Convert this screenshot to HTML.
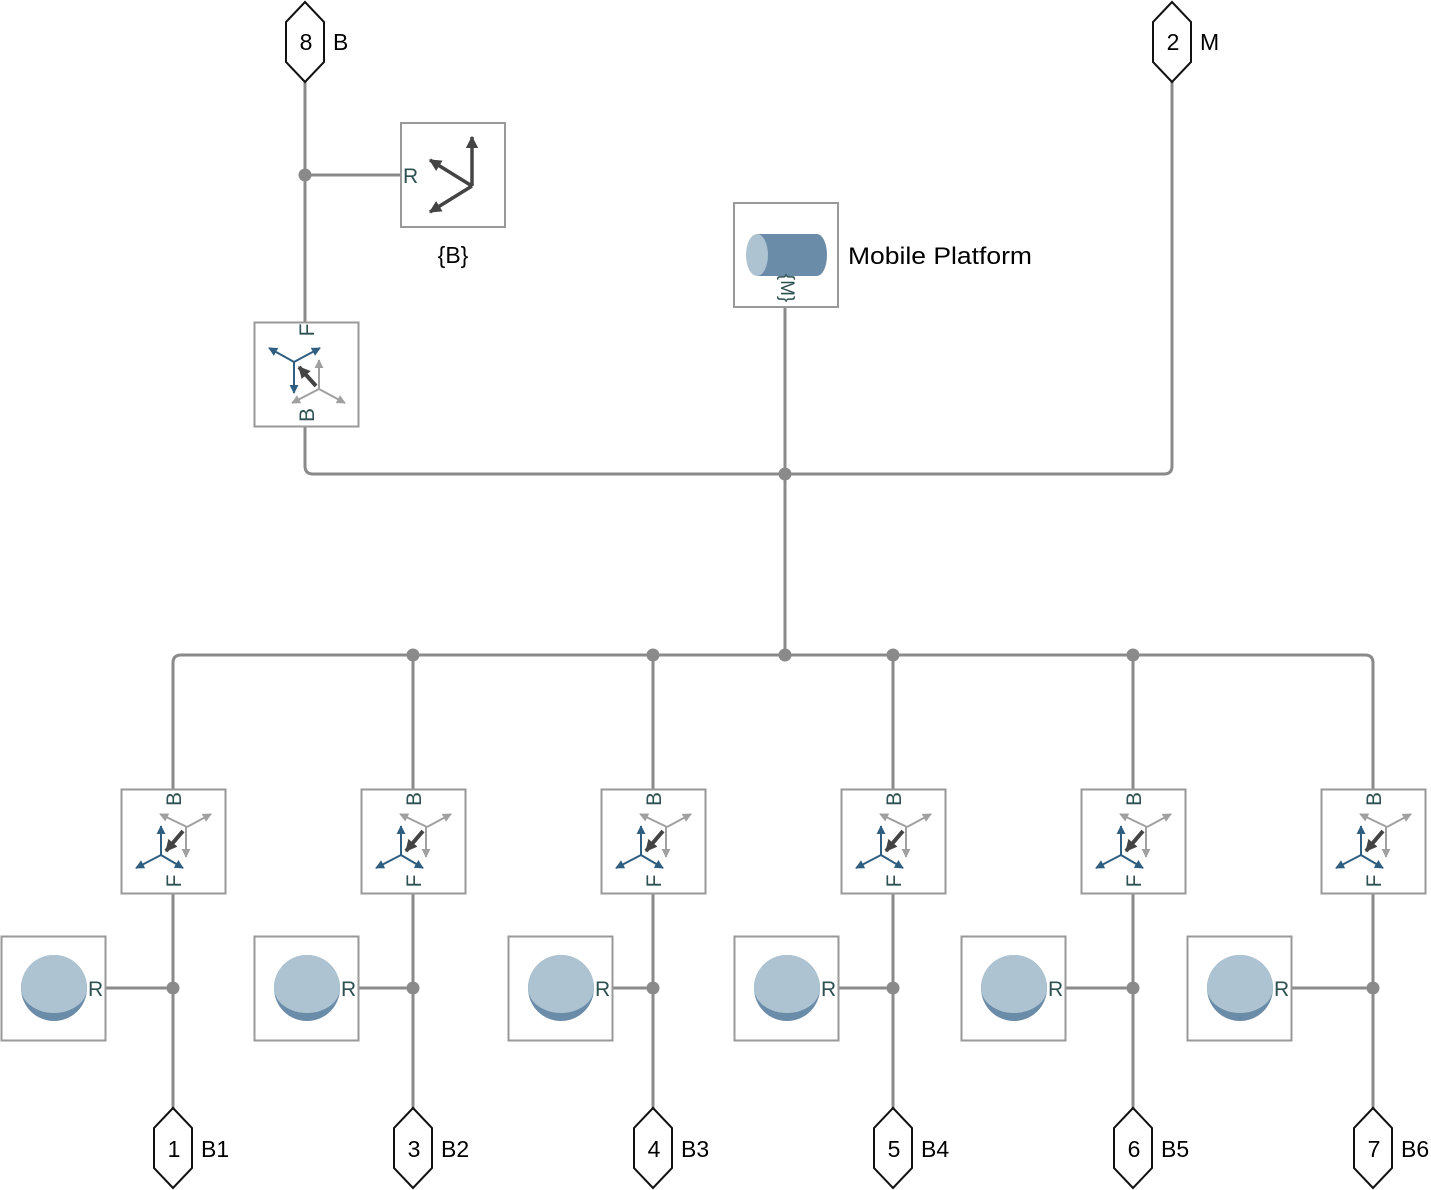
<!DOCTYPE html>
<html><head><meta charset="utf-8"><style>
html,body{margin:0;padding:0;background:#fff;}
svg{display:block;}
text{font-family:"Liberation Sans",sans-serif;}
</style></head><body>
<svg width="1431" height="1190" viewBox="0 0 1431 1190" xmlns="http://www.w3.org/2000/svg">
<defs>
<marker id="mb" viewBox="0 0 10 10" refX="9" refY="5" markerWidth="4.5" markerHeight="4.5" orient="auto"><path d="M0,0L10,5L0,10z" fill="#2f5e80"/></marker>
<marker id="mg" viewBox="0 0 10 10" refX="9" refY="5" markerWidth="4.5" markerHeight="4.5" orient="auto"><path d="M0,0L10,5L0,10z" fill="#a0a0a0"/></marker>
<marker id="md" viewBox="0 0 10 10" refX="9" refY="5" markerWidth="3" markerHeight="3" orient="auto"><path d="M0,0L10,5L0,10z" fill="#444"/></marker>
<marker id="mf" viewBox="0 0 10 10" refX="9" refY="5" markerWidth="3.5" markerHeight="3.5" orient="auto"><path d="M0,0L10,5L0,10z" fill="#444"/></marker>
<g id="tb">
 <rect x="0.5" y="0.5" width="104" height="104" fill="#fff" stroke="#999" stroke-width="2"/>
 <g stroke="#a0a0a0" stroke-width="2" fill="none">
  <line x1="66" y1="38" x2="39" y2="25" marker-end="url(#mg)"/>
  <line x1="66" y1="38" x2="90" y2="25" marker-end="url(#mg)"/>
  <line x1="65" y1="38" x2="65" y2="68" marker-end="url(#mg)"/>
 </g>
 <g stroke="#2f5e80" stroke-width="2" fill="none">
  <line x1="40" y1="66" x2="40" y2="37" marker-end="url(#mb)"/>
  <line x1="40" y1="66" x2="15" y2="79" marker-end="url(#mb)"/>
  <line x1="40" y1="66" x2="62" y2="79" marker-end="url(#mb)"/>
 </g>
 <line x1="62" y1="42" x2="45" y2="62" stroke="#444" stroke-width="4" marker-end="url(#md)"/>
</g>
<g id="tt">
 <rect x="0.5" y="0.5" width="104" height="104" fill="#fff" stroke="#999" stroke-width="2"/>
 <g stroke="#a0a0a0" stroke-width="2" fill="none">
  <line x1="65" y1="67" x2="65" y2="38" marker-end="url(#mg)"/>
  <line x1="65" y1="67" x2="38" y2="81" marker-end="url(#mg)"/>
  <line x1="65" y1="67" x2="91" y2="81" marker-end="url(#mg)"/>
 </g>
 <g stroke="#2f5e80" stroke-width="2" fill="none">
  <line x1="40" y1="40" x2="15" y2="26" marker-end="url(#mb)"/>
  <line x1="40" y1="40" x2="66" y2="26" marker-end="url(#mb)"/>
  <line x1="40" y1="40" x2="40" y2="71" marker-end="url(#mb)"/>
 </g>
 <line x1="62" y1="64" x2="45" y2="45" stroke="#444" stroke-width="4" marker-end="url(#md)"/>
</g>
<g id="sb">
 <rect x="0.5" y="0.5" width="104" height="104" fill="#fff" stroke="#999" stroke-width="2"/>
 <circle cx="53" cy="52" r="33" fill="#6b8ca8"/>
 <circle cx="53" cy="46" r="27" fill="#adc3d1"/>
 <path d="M20,52 A33,33 0 0 1 86,52 A33,25 0 0 1 20,52 Z" fill="#adc3d1"/>
</g>
<g id="hex"><path d="M0,0L19,20L19,60L0,80L-19,60L-19,20Z" fill="#fff" stroke="#111" stroke-width="2"/></g>
</defs>

<g fill="none" stroke="#8a8a8a" stroke-width="3">
 <line x1="305" y1="80" x2="305" y2="323"/>
 <line x1="305" y1="175" x2="401" y2="175"/>
 <path d="M305,427 L305,466 Q305,474 313,474 L1164,474 Q1172,474 1172,466 L1172,80"/>
 <line x1="785" y1="307" x2="785" y2="655"/>
 <path d="M173,790 L173,663 Q173,655 181,655 L1365,655 Q1373,655 1373,663 L1373,790"/>
 <line x1="413" y1="655" x2="413" y2="790"/>
 <line x1="653" y1="655" x2="653" y2="790"/>
 <line x1="893" y1="655" x2="893" y2="790"/>
 <line x1="1133" y1="655" x2="1133" y2="790"/>
 <line x1="173" y1="893" x2="173" y2="1108"/>
 <line x1="413" y1="893" x2="413" y2="1108"/>
 <line x1="653" y1="893" x2="653" y2="1108"/>
 <line x1="893" y1="893" x2="893" y2="1108"/>
 <line x1="1133" y1="893" x2="1133" y2="1108"/>
 <line x1="1373" y1="893" x2="1373" y2="1108"/>
 <line x1="105" y1="988" x2="173" y2="988"/>
 <line x1="358" y1="988" x2="413" y2="988"/>
 <line x1="612" y1="988" x2="653" y2="988"/>
 <line x1="838" y1="988" x2="893" y2="988"/>
 <line x1="1065" y1="988" x2="1133" y2="988"/>
 <line x1="1291" y1="988" x2="1373" y2="988"/>
</g>
<g fill="#8a8a8a">
 <circle cx="305" cy="175" r="6.5"/><circle cx="785" cy="474" r="6.5"/>
 <circle cx="413" cy="655" r="6.5"/><circle cx="653" cy="655" r="6.5"/><circle cx="785" cy="655" r="6.5"/>
 <circle cx="893" cy="655" r="6.5"/><circle cx="1133" cy="655" r="6.5"/>
 <circle cx="173" cy="988" r="6.5"/><circle cx="413" cy="988" r="6.5"/><circle cx="653" cy="988" r="6.5"/>
 <circle cx="893" cy="988" r="6.5"/><circle cx="1133" cy="988" r="6.5"/><circle cx="1373" cy="988" r="6.5"/>
</g>

<rect x="401" y="123" width="104" height="104" fill="#fff" stroke="#999" stroke-width="2"/>
<g stroke="#444" stroke-width="3.5" fill="none">
 <line x1="472" y1="186" x2="472" y2="137" marker-end="url(#mf)"/>
 <line x1="472" y1="186" x2="430" y2="160" marker-end="url(#mf)"/>
 <line x1="472" y1="186" x2="430" y2="212" marker-end="url(#mf)"/>
</g>
<text x="403" y="183" font-size="21" fill="#2d5050">R</text>
<text x="453" y="263" font-size="23" text-anchor="middle" fill="#000">{B}</text>

<use href="#tt" x="254" y="322"/>
<text transform="translate(314,330) rotate(-90)" font-size="21" text-anchor="middle" fill="#2d5050">F</text>
<text transform="translate(314,415) rotate(-90)" font-size="21" text-anchor="middle" fill="#2d5050">B</text>

<rect x="734" y="203" width="104" height="104" fill="#fff" stroke="#999" stroke-width="2"/>
<rect x="757" y="234" width="60" height="42" fill="#6b8ca8"/>
<ellipse cx="817" cy="255" rx="10" ry="21" fill="#6b8ca8"/>
<ellipse cx="757" cy="255" rx="11" ry="21" fill="#adc3d1"/>
<text transform="translate(781,288) rotate(90)" font-size="19" text-anchor="middle" fill="#2d5050">{M}</text>
<text x="848" y="264" font-size="24" fill="#000" textLength="184" lengthAdjust="spacingAndGlyphs">Mobile Platform</text>

<use href="#tb" x="121" y="789"/><use href="#tb" x="361" y="789"/><use href="#tb" x="601" y="789"/>
<use href="#tb" x="841" y="789"/><use href="#tb" x="1081" y="789"/><use href="#tb" x="1321" y="789"/>
<g font-size="21" fill="#2d5050" text-anchor="middle">
 <text transform="translate(181,799) rotate(-90)">B</text><text transform="translate(181,881) rotate(-90)">F</text>
 <text transform="translate(421,799) rotate(-90)">B</text><text transform="translate(421,881) rotate(-90)">F</text>
 <text transform="translate(661,799) rotate(-90)">B</text><text transform="translate(661,881) rotate(-90)">F</text>
 <text transform="translate(901,799) rotate(-90)">B</text><text transform="translate(901,881) rotate(-90)">F</text>
 <text transform="translate(1141,799) rotate(-90)">B</text><text transform="translate(1141,881) rotate(-90)">F</text>
 <text transform="translate(1381,799) rotate(-90)">B</text><text transform="translate(1381,881) rotate(-90)">F</text>
</g>

<use href="#sb" x="1" y="936"/><use href="#sb" x="254" y="936"/><use href="#sb" x="508" y="936"/>
<use href="#sb" x="734" y="936"/><use href="#sb" x="961" y="936"/><use href="#sb" x="1187" y="936"/>
<g font-size="21" fill="#2d5050">
 <text x="88" y="996">R</text><text x="341" y="996">R</text><text x="595" y="996">R</text>
 <text x="821" y="996">R</text><text x="1048" y="996">R</text><text x="1274" y="996">R</text>
</g>

<use href="#hex" x="305" y="2"/><use href="#hex" x="1172" y="2"/>
<use href="#hex" x="173" y="1108"/><use href="#hex" x="413" y="1108"/><use href="#hex" x="653" y="1108"/>
<use href="#hex" x="893" y="1108"/><use href="#hex" x="1133" y="1108"/><use href="#hex" x="1373" y="1108"/>
<g font-size="23" fill="#000">
 <text x="306" y="50" text-anchor="middle">8</text><text x="333" y="50">B</text>
 <text x="1173" y="50" text-anchor="middle">2</text><text x="1200" y="50">M</text>
 <text x="174" y="1157" text-anchor="middle">1</text><text x="201" y="1157">B1</text>
 <text x="414" y="1157" text-anchor="middle">3</text><text x="441" y="1157">B2</text>
 <text x="654" y="1157" text-anchor="middle">4</text><text x="681" y="1157">B3</text>
 <text x="894" y="1157" text-anchor="middle">5</text><text x="921" y="1157">B4</text>
 <text x="1134" y="1157" text-anchor="middle">6</text><text x="1161" y="1157">B5</text>
 <text x="1374" y="1157" text-anchor="middle">7</text><text x="1401" y="1157">B6</text>
</g>
</svg>
</body></html>
